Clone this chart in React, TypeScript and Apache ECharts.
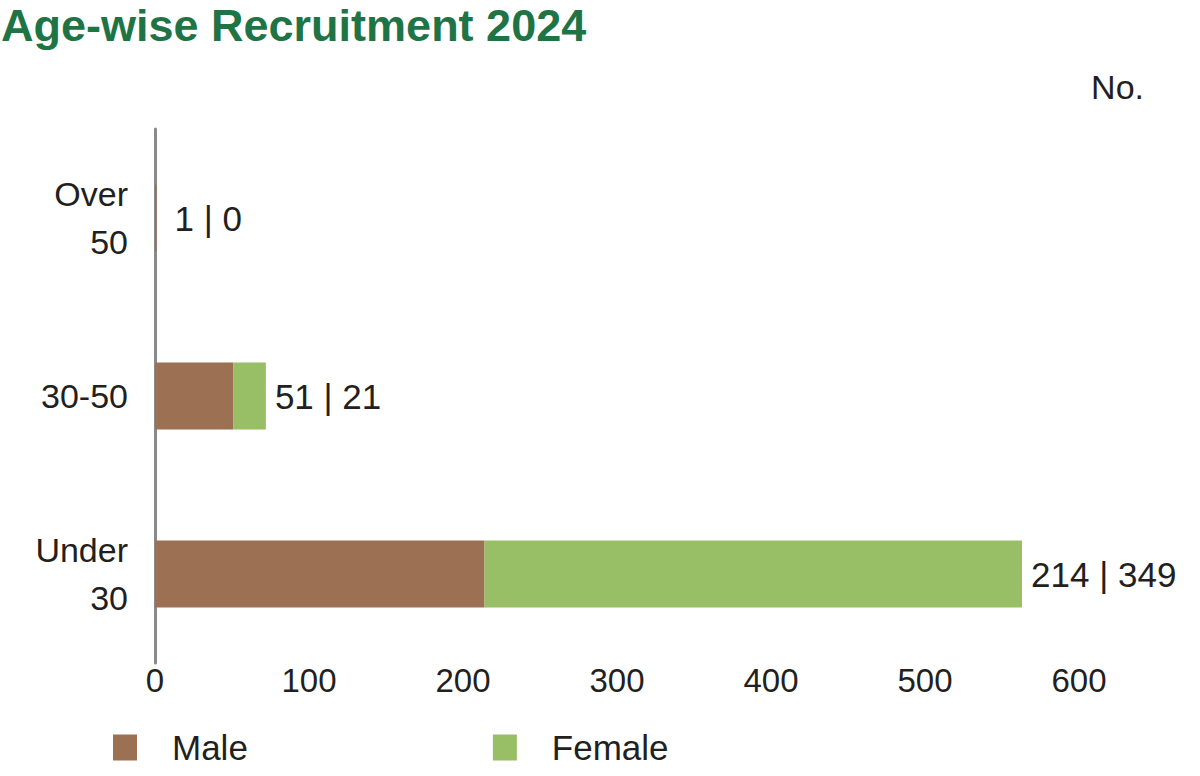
import React, { useEffect, useRef } from "react";
import * as echarts from "echarts";

const categories = ["Under\n30", "30-50", "Over\n50"];
const maleValues = [214, 51, 1];
const femaleValues = [349, 21, 0];
const xTicks = [0, 100, 200, 300, 400, 500, 600];

const MALE = "#9c7053";
const FEMALE = "#98be66";
const TEXT = "#231f20";
const FONT = "Liberation Sans";

export default function App() {
  const ref = useRef<HTMLDivElement>(null);
  useEffect(() => {
    if (!ref.current) return;
    const chart = echarts.init(ref.current, undefined, { renderer: "svg" });
    chart.setOption({
      animation: false,
      title: {
        text: "Age-wise Recruitment 2024",
        left: 1,
        top: 2,
        padding: 0,
        textStyle: {
          color: "#1f7446",
          fontSize: 45,
          lineHeight: 46,
          fontWeight: "bold",
          fontFamily: FONT,
        },
      },
      graphic: [
        {
          type: "text",
          right: 56,
          top: 70,
          style: { text: "No.", fill: TEXT, font: `normal 34px ${FONT}` },
        },
      ],
      legend: {
        left: 113,
        top: 730,
        padding: 0,
        icon: "rect",
        itemWidth: 24,
        itemHeight: 26,
        itemGap: 245,
        textStyle: { color: TEXT, fontSize: 35, fontFamily: FONT, padding: [0, 0, 0, 30] },
        data: ["Male", "Female"],
      },
      grid: { left: 155, right: 121, top: 129, bottom: 113, containLabel: false },
      xAxis: {
        type: "value",
        min: 0,
        max: 600,
        interval: 100,
        axisLine: { show: false },
        axisTick: { show: false },
        splitLine: { show: false },
        axisLabel: {
          color: TEXT,
          fontSize: 33,
          fontFamily: FONT,
          margin: 1,
          customValues: xTicks,
        },
      },
      yAxis: {
        type: "category",
        data: categories,
        axisLine: { show: true, lineStyle: { color: "#8a8a8a", width: 3 } },
        axisTick: { show: false },
        axisLabel: {
          color: TEXT,
          fontSize: 34,
          fontFamily: FONT,
          lineHeight: 48,
          margin: 27,
          align: "right",
        },
      },
      series: [
        {
          name: "Male",
          type: "bar",
          stack: "total",
          data: maleValues,
          barWidth: 67,
          itemStyle: { color: MALE },
        },
        {
          name: "Female",
          type: "bar",
          stack: "total",
          data: femaleValues.map((v) => (v === 0 ? { value: v, label: { distance: 18 } } : v)),
          barWidth: 67,
          itemStyle: { color: FEMALE },
          label: {
            show: true,
            position: "right",
            distance: 9,
            color: TEXT,
            fontSize: 35,
            fontFamily: FONT,
            formatter: (p: any) => `${maleValues[p.dataIndex]} | ${femaleValues[p.dataIndex]}`,
          },
        },
      ],
    });
    return () => chart.dispose();
  }, []);
  return (
    <div
      ref={ref}
      style={{ position: "fixed", left: 0, top: 0, width: 1200, height: 776, background: "#fff" }}
    />
  );
}
